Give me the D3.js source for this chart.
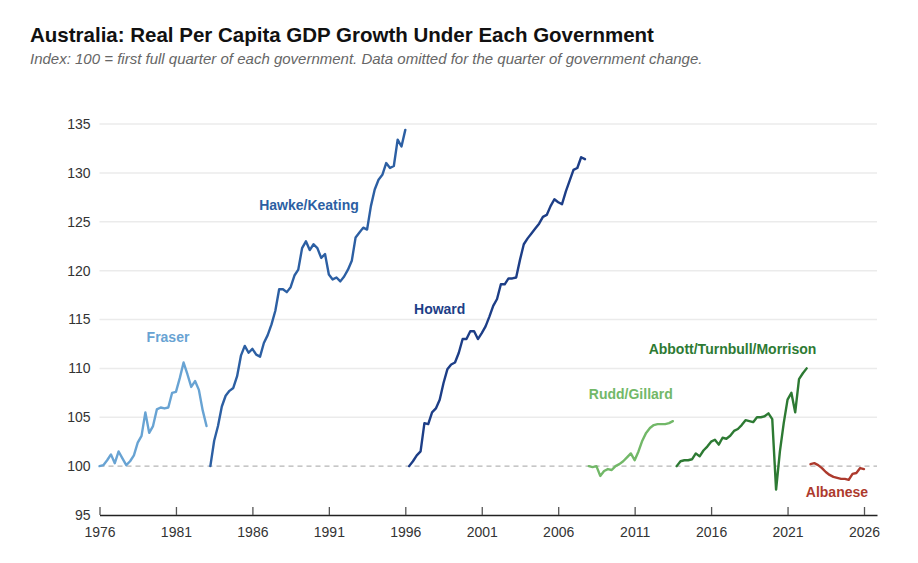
<!DOCTYPE html>
<html>
<head>
<meta charset="utf-8">
<script src="https://cdn.jsdelivr.net/npm/d3@7/dist/d3.min.js"></script>
<style>
  html, body { margin: 0; padding: 0; background: #fff; }
  svg { display: block; font-family: "Liberation Sans", Arial, Helvetica, sans-serif; }
</style>
</head>
<body>
<svg id="chart" width="918" height="563"></svg>
<script>
// ---------- Data ----------
const titleText = "Australia: Real Per Capita GDP Growth Under Each Government";
const subtitleText = "Index: 100 = first full quarter of each government. Data omitted for the quarter of government change.";

const xTickYears = [1976, 1981, 1986, 1991, 1996, 2001, 2006, 2011, 2016, 2021, 2026];
const yTickValues = [95, 100, 105, 110, 115, 120, 125, 130, 135];

const govNames = ["Fraser", "Hawke/Keating", "Howard", "Rudd/Gillard", "Abbott/Turnbull/Morrison", "Albanese"];
// first full quarter of each government (decimal year)
const govStarts = [1976.0, 1983.25, 1996.25, 2008.0, 2013.75, 2022.5];
const govColors = ["#68a3d3", "#2c5fa3", "#1d3e87", "#72b868", "#2d7a33", "#ad3a2d"];

// quarterly index values
const fraser = [100.0, 100.1, 100.6, 101.2, 100.3, 101.5, 100.8, 100.1, 100.5, 101.1,
  102.4, 103.1, 105.5, 103.4, 104.1, 105.8, 106.0, 105.9, 106.0, 107.5,
  107.6, 109.0, 110.6, 109.4, 108.1, 108.7, 107.8, 105.7, 104.1];
const hawkeKeating = [100.0, 102.6, 104.1, 106.1, 107.2, 107.7, 108.0, 109.2, 111.3, 112.3,
  111.6, 112.0, 111.4, 111.2, 112.6, 113.4, 114.5, 115.9, 118.1, 118.1,
  117.8, 118.3, 119.5, 120.1, 122.3, 123.0, 122.1, 122.7, 122.3, 121.3,
  121.7, 119.6, 119.1, 119.3, 118.9, 119.4, 120.1, 121.0, 123.4, 123.9,
  124.4, 124.2, 126.6, 128.3, 129.3, 129.8, 131.0, 130.5, 130.7, 133.4,
  132.7, 134.4];
const howard = [100.0, 100.5, 101.1, 101.5, 104.4, 104.3, 105.5, 105.9, 106.8, 108.5,
  109.9, 110.4, 110.6, 111.6, 113.0, 113.0, 113.8, 113.8, 113.0, 113.6,
  114.3, 115.3, 116.4, 117.1, 118.6, 118.6, 119.2, 119.2, 119.3, 121.1,
  122.7, 123.3, 123.8, 124.3, 124.8, 125.5, 125.7, 126.6, 127.3, 127.0,
  126.8, 128.1, 129.2, 130.3, 130.5, 131.6, 131.4];
const ruddGillard = [100.0, 99.9, 100.0, 99.0, 99.5, 99.7, 99.6, 100.0, 100.2, 100.5,
  100.9, 101.3, 100.6, 101.5, 102.6, 103.4, 103.9, 104.2, 104.3, 104.3,
  104.3, 104.4, 104.6];
const abbottTurnbullMorrison = [100.0, 100.5, 100.6, 100.6, 100.7, 101.3, 101.0, 101.6, 102.0, 102.5,
  102.7, 102.2, 102.9, 102.8, 103.1, 103.6, 103.8, 104.2, 104.7, 104.6,
  104.5, 105.0, 105.0, 105.1, 105.4, 104.8, 97.6, 101.5, 104.4, 106.8,
  107.5, 105.5, 108.9, 109.5, 110.0];
const albanese = [100.2, 100.3, 100.1, 99.8, 99.4, 99.1, 98.9, 98.8, 98.7, 98.7,
  98.6, 99.2, 99.3, 99.8, 99.7];

const govValues = [fraser, hawkeKeating, howard, ruddGillard, abbottTurnbullMorrison, albanese];

// label anchors in data space (year, index value)
const labelYears = [1980.48, 1989.7, 1998.25, 2010.75, 2017.4, 2024.23];
const labelValues = [112.65, 126.16, 115.52, 106.82, 111.43, 96.8];

// ---------- Chart ----------
const svg = d3.select("#chart");
const W = 918, H = 563;
svg.append("rect").attr("width", W).attr("height", H).attr("fill", "#fff");

const x = d3.scaleLinear().domain([1976, 2026.85]).range([99.5, 877]);
const y = d3.scaleLinear().domain([95, 135]).range([515, 124]);

// title
svg.append("text").attr("x", 30).attr("y", 42)
  .attr("font-size", 20.5).attr("font-weight", "bold").attr("fill", "#111")
  .text(titleText);
svg.append("text").attr("x", 30).attr("y", 64)
  .attr("font-size", 15).attr("font-style", "italic").attr("fill", "#666")
  .text(subtitleText);

// gridlines
svg.append("g").selectAll("line")
  .data(yTickValues.filter(v => v > 100))
  .join("line")
  .attr("x1", x.range()[0]).attr("x2", x.range()[1])
  .attr("y1", d => y(d)).attr("y2", d => y(d))
  .attr("stroke", "#ebebeb").attr("stroke-width", 1.5);

// baseline 100 dashed
svg.append("line")
  .attr("x1", x.range()[0]).attr("x2", x.range()[1])
  .attr("y1", y(100)).attr("y2", y(100))
  .attr("stroke", "#b5b5b5").attr("stroke-width", 1.3)
  .attr("stroke-dasharray", "5,4");

// y axis labels
const yAxis = d3.axisLeft(y).tickValues(yTickValues).tickSize(0).tickPadding(9);
const gy = svg.append("g").attr("transform", `translate(${x.range()[0]},0)`).call(yAxis);
gy.select(".domain").remove();
gy.selectAll("text").attr("font-size", 14).attr("fill", "#333")
  .attr("font-family", "'Liberation Sans', Arial, sans-serif");

// x axis
const xAxis = d3.axisBottom(x).tickValues(xTickYears).tickFormat(d3.format("d"))
  .tickSizeInner(-8).tickSizeOuter(0).tickPadding(12);
const gx = svg.append("g").attr("transform", `translate(0,${y(95)})`).call(xAxis);
gx.select(".domain").attr("stroke", "#222").attr("stroke-width", 1.3);
gx.selectAll(".tick line").attr("stroke", "#555").attr("stroke-width", 1.3);
gx.selectAll("text").attr("font-size", 14).attr("fill", "#333")
  .attr("font-family", "'Liberation Sans', Arial, sans-serif");

// lines
const line = d3.line().x(d => x(d[0])).y(d => y(d[1]));
govValues.forEach((vals, gi) => {
  const pts = vals.map((v, i) => [govStarts[gi] + i * 0.25, v]);
  svg.append("path").datum(pts)
    .attr("d", line)
    .attr("fill", "none")
    .attr("stroke", govColors[gi])
    .attr("stroke-width", 2.4)
    .attr("stroke-linejoin", "round")
    .attr("stroke-linecap", "round");
});

// labels
govNames.forEach((name, gi) => {
  svg.append("text")
    .attr("x", x(labelYears[gi])).attr("y", y(labelValues[gi]))
    .attr("text-anchor", "middle")
    .attr("font-size", 14).attr("font-weight", "bold")
    .attr("fill", govColors[gi])
    .text(name);
});
</script>
</body>
</html>
